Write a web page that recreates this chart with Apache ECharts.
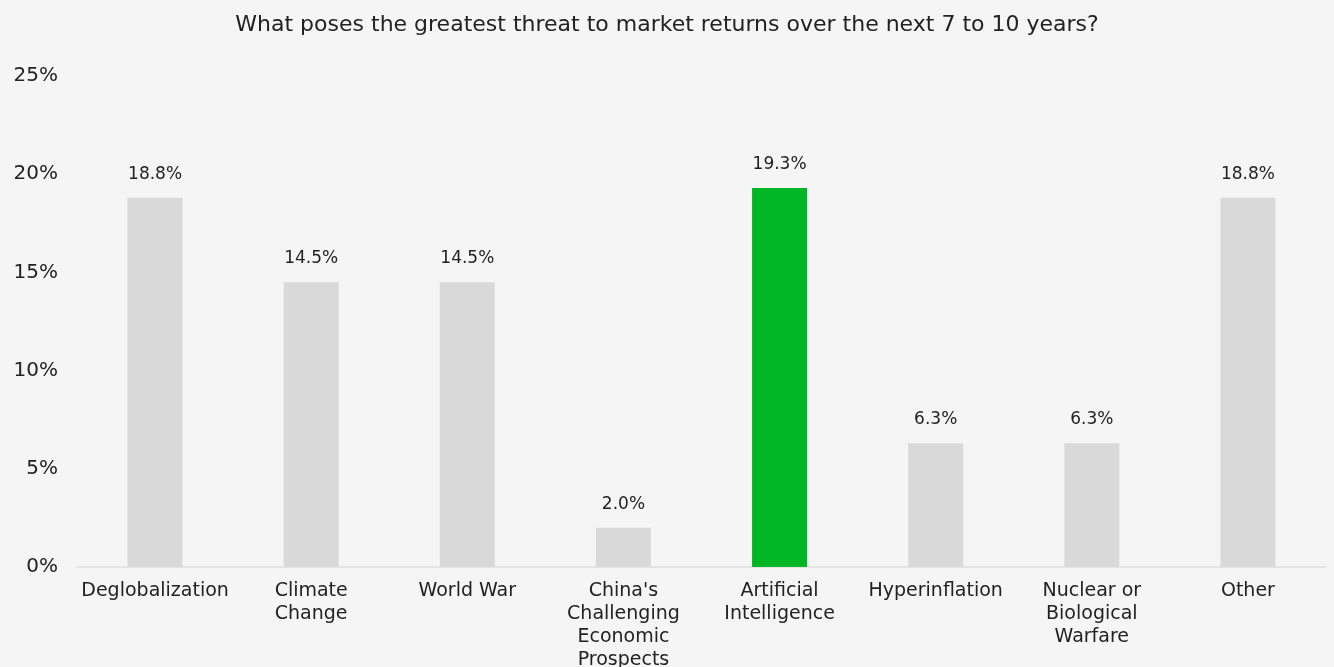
<!DOCTYPE html>
<html><head><meta charset="utf-8">
<script src="https://cdn.jsdelivr.net/npm/echarts@6/dist/echarts.min.js"></script>
<style>html,body{margin:0;padding:0;background:#f5f5f5}#c{width:1334px;height:667px}</style>
</head><body><div id="c"></div>
<script>
const title = "What poses the greatest threat to market returns over the next 7 to 10 years?";
const categories = ["Deglobalization", "Climate\nChange", "World War", "China's\nChallenging\nEconomic\nProspects", "Artificial\nIntelligence", "Hyperinflation", "Nuclear or\nBiological\nWarfare", "Other"];
const values = [18.8, 14.5, 14.5, 2.0, 19.3, 6.3, 6.3, 18.8];
const highlightIndex = 4;
const yTicks = [0, 5, 10, 15, 20, 25];

const font = "'DejaVu Sans', sans-serif";
const chart = echarts.init(document.getElementById('c'));
chart.setOption({
  backgroundColor: '#f5f5f5',
  animation: false,
  title: { text: title, left: 'center', top: 9, textStyle: { fontFamily: font, fontSize: 22, fontWeight: 'normal', color: '#222' } },
  grid: { left: 77, right: 8, top: 76, bottom: 100, containLabel: false, outerBoundsMode: 'none' },
  xAxis: {
    type: 'category', data: categories,
    axisLine: { lineStyle: { color: '#e4e4e4', width: 2 } },
    axisTick: { show: false },
    axisLabel: { interval: 0, margin: 13, fontFamily: font, fontSize: 19, color: '#222', lineHeight: 23 }
  },
  yAxis: {
    type: 'value', min: yTicks[0], max: yTicks[yTicks.length-1], interval: 5,
    splitLine: { show: false }, axisLine: { show: false }, axisTick: { show: false },
    axisLabel: { formatter: '{value}%', margin: 19, fontFamily: font, fontSize: 20, color: '#222' }
  },
  series: [{
    type: 'bar', barWidth: 55,
    data: values.map((v, i) => ({ value: v, itemStyle: { color: i === highlightIndex ? '#00b624' : '#d9d9d9' } })),
    label: { show: true, position: 'top', distance: 15, formatter: p => p.value.toFixed(1) + '%', fontFamily: font, fontSize: 17, color: '#222' }
  }]
});
</script></body></html>
